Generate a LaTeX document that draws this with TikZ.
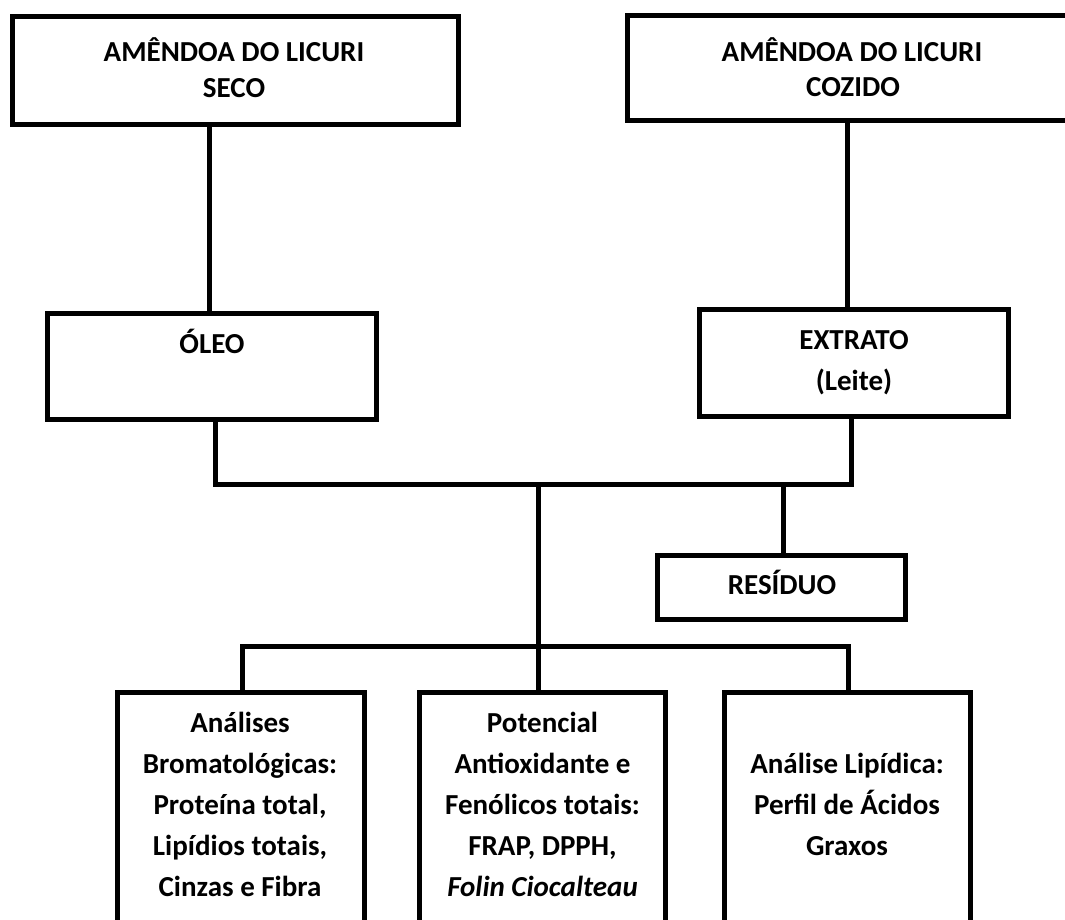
\documentclass[tikz,border=0pt]{standalone}
\usepackage{fontspec}
\setmainfont{Carlito}
\begin{document}
\begin{tikzpicture}[x=1pt,y=-1pt,
  boxnode/.style={draw=black, line width=5pt, inner sep=0pt, outer sep=0pt, fill=none},
  conn/.style={draw=black, line width=5pt},
  txt/.style={anchor=base, inner sep=0pt, font=\bfseries\fontsize{29}{35}\selectfont}]
\useasboundingbox (0,0) rectangle (1065,920);
\clip (0,0) rectangle (1065,920);
\fill[white] (0,0) rectangle (1065,920);
% boxes
\node[boxnode, minimum width=445.5pt, minimum height=107.8pt] (seco) at (235.25,70.6) {};
\node[boxnode, minimum width=452.5pt, minimum height=105.5pt] (cozido) at (853.75,68.25) {};
\node[boxnode, minimum width=328.5pt, minimum height=106.5pt] (oleo) at (211.75,366.25) {};
\node[boxnode, minimum width=309pt, minimum height=107pt] (extrato) at (854,363) {};
\node[boxnode, minimum width=248.5pt, minimum height=64pt] (residuo) at (781.25,587.5) {};
\node[boxnode, minimum width=247pt, minimum height=247.5pt] (brom) at (241,816.25) {};
\node[boxnode, minimum width=246pt, minimum height=247.5pt] (antiox) at (542.5,816.25) {};
\node[boxnode, minimum width=246pt, minimum height=247.5pt] (lipid) at (847.5,816.25) {};
% hub coordinates
\coordinate (hub) at (538,484.5);
\coordinate (bus) at (538,646);
% connectors
\draw[conn] ([xshift=-2.75pt]oleo.north) -- ([xshift=-2.75pt]oleo.north |- seco.south);
\draw[conn] ([xshift=-6.5pt]extrato.north) -- ([xshift=-6.5pt]extrato.north |- cozido.south);
\draw[conn] ([xshift=3.25pt]oleo.south) |- (hub) -| ([xshift=-3pt]extrato.south);
\draw[conn] (hub) -- (hub |- antiox.north);
\draw[conn] ([xshift=1.75pt]residuo.north) -- ([xshift=1.75pt]residuo.north |- hub);
\draw[conn] ([xshift=1pt]brom.north) |- (bus) -| ([xshift=1pt]lipid.north);
% texts
\node[txt] (t1a) at (234,62) {AMÊNDOA DO LICURI};
\node[txt] (t1b) at (234,98) {SECO};
\node[txt] (t2a) at (852,62) {AMÊNDOA DO LICURI};
\node[txt] (t2b) at (853,97) {COZIDO};
\node[txt] (t3) at (212,353) {ÓLEO};
\node[txt] (t4a) at (854,349) {EXTRATO};
\node[txt] (t4b) at (854,390) {(Leite)};
\node[txt] (t5) at (782,594) {RESÍDUO};
\node[txt] (b1) at (240,732) {Análises};
\node[txt] (b2) at (240,773) {Bromatológicas:};
\node[txt] (b3) at (240,814) {Proteína total,};
\node[txt] (b4) at (240,855) {Lipídios totais,};
\node[txt] (b5) at (240,896) {Cinzas e Fibra};
\node[txt] (m1) at (542.5,732) {Potencial};
\node[txt] (m2) at (542.5,773) {Antioxidante e};
\node[txt] (m3) at (542.5,814) {Fenólicos totais:};
\node[txt] (m4) at (542.5,855) {FRAP, DPPH,};
\node[txt] (m5) at (542.5,896) {\itshape Folin Ciocalteau};
\node[txt] (r1) at (847,773) {Análise Lipídica:};
\node[txt] (r2) at (847,814) {Perfil de Ácidos};
\node[txt] (r3) at (847,855) {Graxos};
\end{tikzpicture}
\end{document}
